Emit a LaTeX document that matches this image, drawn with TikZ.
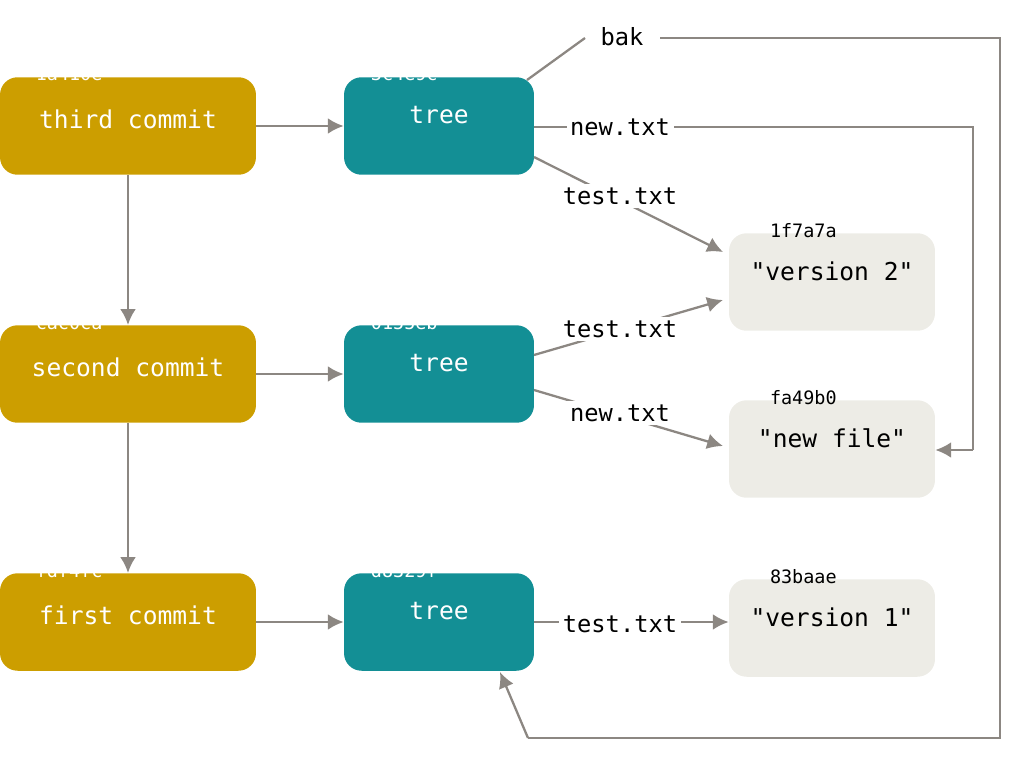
\documentclass[tikz,border=0pt]{standalone}
\usepackage{fontspec}
\setmonofont{DejaVu Sans Mono}
\usetikzlibrary{positioning, arrows.meta}
\definecolor{commitc}{HTML}{CC9E00}
\definecolor{treec}{HTML}{138F95}
\definecolor{blobc}{HTML}{EDECE6}
\definecolor{linec}{HTML}{8C8782}
\begin{document}
\begin{tikzpicture}[x = 0.02cm, y = -0.02cm, font = \ttfamily]

	% Styles

	\tikzset{
		box/.style = {rounded corners = 10pt, minimum height = 1.95cm, inner sep = 0pt},
		commit/.style = {box, fill = commitc, minimum width = 5.12cm},
		tree/.style = {box, fill = treec, minimum width = 3.8cm},
		blob/.style = {box, fill = blobc, minimum width = 4.12cm},
		hash/.style = {font = \ttfamily\fontsize{10.5}{12}\selectfont, anchor = north west},
		big/.style = {font = \ttfamily\fontsize{14}{16}\selectfont},
		arr/.style = {draw = linec, line width = 1.3pt, -{Latex[length = 9pt, width = 9pt]}},
		plain/.style = {draw = linec, line width = 1.3pt},
		lbl/.style = {fill = white, font = \ttfamily\fontsize{13.5}{16}\selectfont, inner sep = 2pt}
	}

	\useasboundingbox (0, 0) rectangle (1024, 761);

	% Commits

	\foreach \id/\y/\h/\t in {c3/126/1a410e/third commit, c2/374/cac0ca/second commit, c1/622/fdf4fc/first commit} {
		\node [commit] (\id) at (128, \y) {};
		\node [hash, text = white] at ([xshift = 17, yshift = 9] \id.north west) {\h};
		\node [big, text = white] at ([yshift = 4] \id.center) {\t};
	}

	% Trees

	\foreach \id/\y/\h in {t3/126/3c4e9c, t2/374/0155eb, t1/622/d8329f} {
		\node [tree] (\id) at (439, \y) {};
		\node [hash, text = white] at ([xshift = 12, yshift = 9] \id.north west) {\h};
		\node [big, text = white] at ([yshift = 6] \id.center) {tree};
	}

	% Blobs

	\foreach \id/\y/\h/\t in {b2/282/1f7a7a/"version 2", b3/449/fa49b0/"new file", b1/628/83baae/"version 1"} {
		\node [blob] (\id) at (832, \y) {};
		\node [hash] at ([xshift = 20, yshift = 9] \id.north west) {\h};
		\node [big] at ([yshift = 6] \id.center) {\t};
	}

	% Commit links

	\draw [arr] (c3) -- (t3);
	\draw [arr] (c2) -- (t2);
	\draw [arr] (c1) -- (t1);
	\draw [arr] (c3) -- (c2);
	\draw [arr] (c2) -- (c1);

	% Tree entries

	\coordinate (n1) at (973, 127);
	\coordinate (n2) at (973, 450);
	\draw [plain] (534, 127) -- (n1) -- (n2);
	\draw [arr] (n2) -- (b3.east |- n2);
	\node [lbl] at (620, 127) {new.txt};

	\draw [arr] (534, 157) -- (723, 252);
	\node [lbl] at (620, 196) {test.txt};

	\draw [arr] (534, 355) -- (723, 300);
	\node [lbl] at (620, 329) {test.txt};

	\draw [arr] (534, 390) -- (723, 446);
	\node [lbl] at (620, 413) {new.txt};

	\draw [arr] (t1.east) -- (b1.west |- t1.east);
	\node [lbl] at (620, 624) {test.txt};

	% Backup link

	\coordinate (k1) at (585, 38);
	\coordinate (k2) at (1000, 38);
	\coordinate (k3) at (1000, 738);
	\coordinate (k4) at (528, 738);
	\draw [plain] (527, 80) -- (k1);
	\draw [plain] (660, 38) -- (k2) -- (k3) -- (k4);
	\draw [arr] (k4) -- (500, 672);
	\node [lbl, fill = none] (bak) at (622, 37) {bak};

\end{tikzpicture}
\end{document}
